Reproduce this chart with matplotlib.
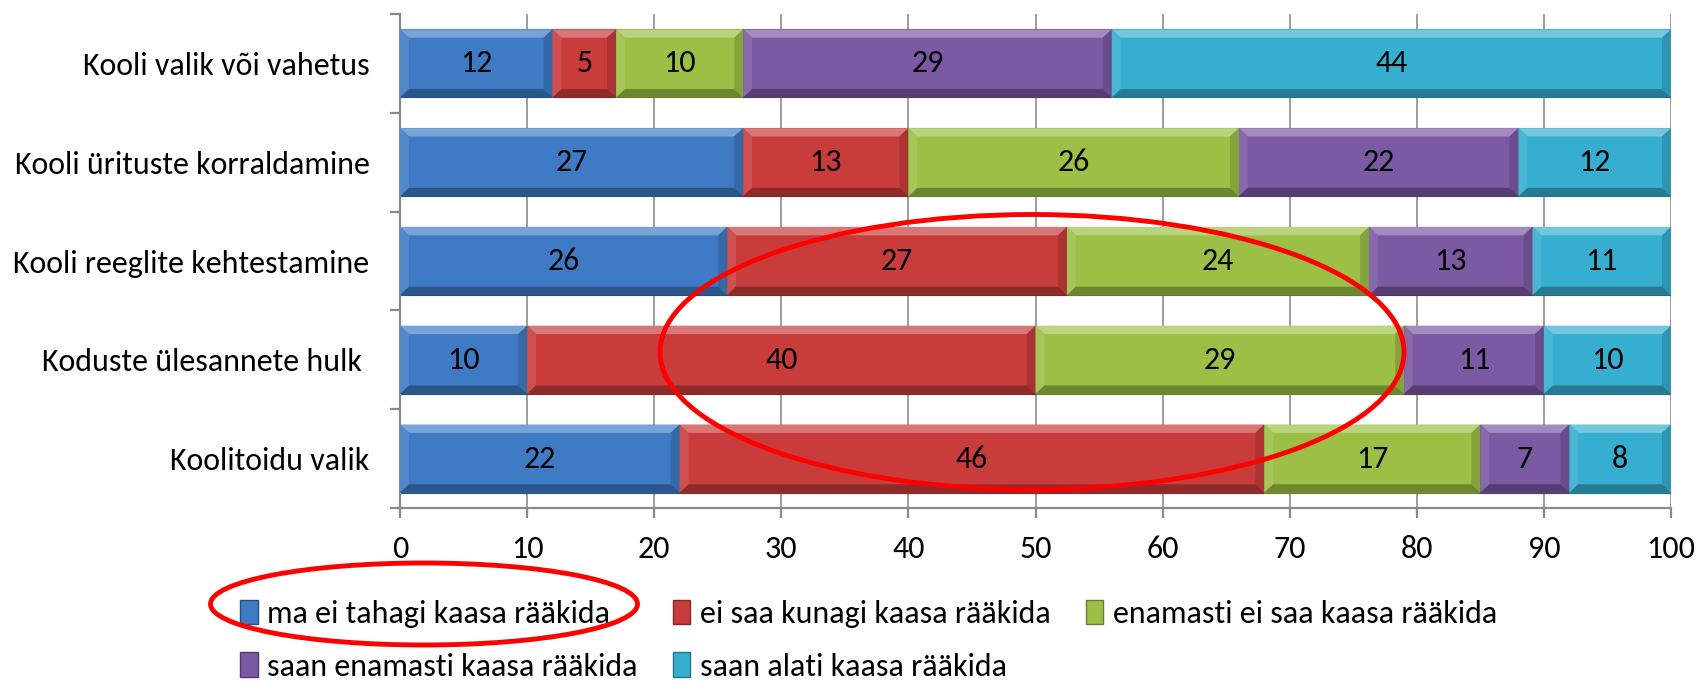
import matplotlib
matplotlib.use("Agg")
import matplotlib.colors as mcolors
import matplotlib.pyplot as plt
import numpy as np
from matplotlib import font_manager
from matplotlib.patches import Ellipse, Patch, Polygon

categories = [
    "Kooli valik või vahetus",
    "Kooli ürituste korraldamine",
    "Kooli reeglite kehtestamine",
    "Koduste ülesannete hulk ",
    "Koolitoidu valik",
]
series_names = [
    "ma ei tahagi kaasa rääkida",
    "ei saa kunagi kaasa rääkida",
    "enamasti ei saa kaasa rääkida",
    "saan enamasti kaasa rääkida",
    "saan alati kaasa rääkida",
]
ma_ei_tahagi = [12, 27, 26, 10, 22]
ei_saa_kunagi = [5, 13, 27, 40, 46]
enamasti_ei_saa = [10, 26, 24, 29, 17]
saan_enamasti = [29, 22, 13, 11, 7]
saan_alati = [44, 12, 11, 10, 8]
colors = ["#3E7BC4", "#C93C3C", "#9CC045", "#7B59A3", "#36AED0"]
x_ticks = list(range(0, 101, 10))

names = {f.name for f in font_manager.fontManager.ttflist}
if "Carlito" in names:
    family, fs = "Carlito", 23
elif "Liberation Sans Narrow" in names:
    family, fs = "Liberation Sans Narrow", 24.5
else:
    family, fs = "DejaVu Sans", 18
plt.rcParams["font.family"] = [family, "DejaVu Sans"]


def shade(c, f):
    rgb = np.array(mcolors.to_rgb(c))
    if f > 0:
        rgb = rgb + (1 - rgb) * f
    else:
        rgb = rgb * (1 + f)
    return tuple(np.clip(rgb, 0, 1))


W, H = 1698, 681
fig = plt.figure(figsize=(W / 100, H / 100), dpi=100)
ax = fig.add_axes([400 / W, 1 - 508 / H, 1271 / W, 494 / H])

vals = np.array([ma_ei_tahagi, ei_saa_kunagi, enamasti_ei_saa, saan_enamasti, saan_alati], float)
shares = vals / vals.sum(axis=0) * 100  # 100% stacked, like the original
ypos = np.arange(len(categories))[::-1]
bar_h = 0.69
bx, by = 0.7, 0.085  # bevel size in data units

left = np.zeros(len(categories))
for i, name in enumerate(series_names):
    c = colors[i]
    ax.barh(ypos, shares[i], left=left, height=bar_h, color=c,
            edgecolor=shade(c, -0.35), linewidth=0.8, zorder=2)
    for x0, w, y, v in zip(left, shares[i], ypos, vals[i]):
        x1 = x0 + w
        y0, y1 = y - bar_h / 2, y + bar_h / 2
        sides = [
            ([(x0, y1), (x1, y1), (x1 - bx, y1 - by), (x0 + bx, y1 - by)], 0.3),
            ([(x0, y0), (x0, y1), (x0 + bx, y1 - by), (x0 + bx, y0 + by)], 0.1),
            ([(x1, y0), (x1, y1), (x1 - bx, y1 - by), (x1 - bx, y0 + by)], -0.15),
            ([(x0, y0), (x1, y0), (x1 - bx, y0 + by), (x0 + bx, y0 + by)], -0.3),
        ]
        for pts, f in sides:
            ax.add_patch(Polygon(pts, closed=True, facecolor=shade(c, f),
                                 edgecolor="none", zorder=3))
        ax.text(x0 + w / 2, y, f"{int(v)}", ha="center", va="center",
                fontsize=fs, color="black", zorder=4)
    left += shares[i]

ax.set_xlim(0, 100)
ax.set_ylim(-0.5, len(categories) - 0.5)
ax.set_xticks(x_ticks)
ax.grid(axis="x", color="#8E8E8E", linewidth=1.2)
ax.set_axisbelow(True)
for s in ["top", "right"]:
    ax.spines[s].set_visible(False)
for s in ["left", "bottom"]:
    ax.spines[s].set_color("#8A8A8A")
    ax.spines[s].set_linewidth(1.6)

ax.set_yticks(ypos)
ax.set_yticklabels(categories)
ax.set_yticks(np.arange(-0.5, len(categories), 1), minor=True)
ax.tick_params(axis="y", which="major", length=0, pad=22, labelsize=fs)
ax.tick_params(axis="y", which="minor", length=7.5, width=1.6, color="#8A8A8A")
ax.tick_params(axis="x", length=7.5, width=1.6, color="#8A8A8A", pad=12, labelsize=fs)

handles = [Patch(facecolor=c, edgecolor=shade(c, -0.35), label=n)
           for c, n in zip(colors, series_names)]
order = [0, 3, 1, 4, 2]
fig.legend([handles[k] for k in order], [series_names[k] for k in order],
           ncol=3, loc="upper left", bbox_to_anchor=(240 / W, 1 - 600 / H),
           frameon=False, fontsize=fs, handlelength=0.55, handleheight=0.8,
           handletextpad=0.3, columnspacing=1.1, labelspacing=0.75,
           borderpad=0, borderaxespad=0)

fig.add_artist(Ellipse((1032 / W, 1 - 352 / H), 744 / W, 275 / H,
                       transform=fig.transFigure, fill=False,
                       edgecolor="#FF0000", linewidth=3.5, zorder=10))
fig.add_artist(Ellipse((424 / W, 1 - 604 / H), 427 / W, 82 / H,
                       transform=fig.transFigure, fill=False,
                       edgecolor="#FF0000", linewidth=3.5, zorder=10))

fig.savefig("out.png", dpi=100)
